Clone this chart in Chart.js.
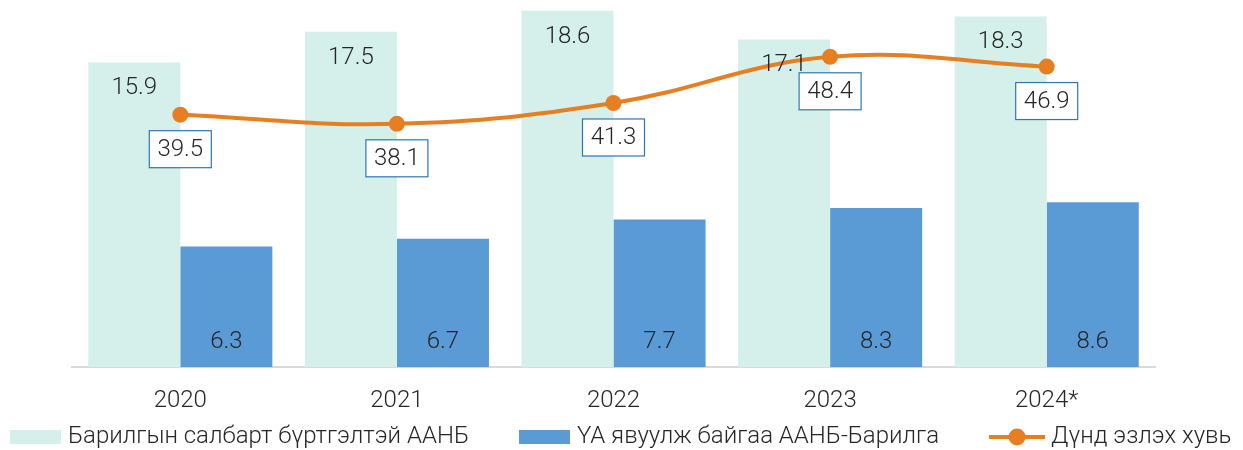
<!DOCTYPE html>
<html>
<head>
<meta charset="utf-8">
<script src="https://cdn.jsdelivr.net/npm/chart.js@4/dist/chart.umd.min.js"></script>
<style>
  html, body { margin: 0; padding: 0; background: #fff; }
  #wrap { width: 1243px; height: 450px; }
</style>
</head>
<body>
<div id="wrap"><canvas id="chart" width="1243" height="450"></canvas></div>
<script>
const years = ['2020', '2021', '2022', '2023', '2024*'];
const registered = [15.9, 17.5, 18.6, 17.1, 18.3];
const active = [6.3, 6.7, 7.7, 8.3, 8.6];
const share = [39.5, 38.1, 41.3, 48.4, 46.9];

const FONT = 'Roboto';
const TEXT = '#262626';

// value labels drawn on top of the datasets
const valueLabels = {
    id: 'valueLabels',
    afterDatasetsDraw(chart) {
        const ctx = chart.ctx;
        ctx.save();
        ctx.font = '300 24px ' + FONT;
        ctx.textAlign = 'center';
        ctx.textBaseline = 'middle';
        chart.data.datasets.forEach((ds, i) => {
            const meta = chart.getDatasetMeta(i);
            meta.data.forEach((el, j) => {
                const txt = ds.data[j].toFixed(1);
                if (i === 0) {
                    ctx.fillStyle = TEXT;
                    ctx.fillText(txt, el.x, el.y + 26);
                } else if (i === 1) {
                    ctx.fillStyle = TEXT;
                    ctx.fillText(txt, el.x, el.base - 25);
                } else {
                    const cy = el.y + 34.5;
                    ctx.fillStyle = '#fff';
                    ctx.fillRect(el.x - 31, cy - 18.5, 62, 37);
                    ctx.strokeStyle = '#2e75b6';
                    ctx.lineWidth = 1.2;
                    ctx.strokeRect(el.x - 31, cy - 18.5, 62, 37);
                    ctx.fillStyle = TEXT;
                    ctx.fillText(txt, el.x, cy + 1);
                }
            });
        });
        ctx.restore();
    }
};

// legend row at the bottom
const bottomLegend = {
    id: 'bottomLegend',
    afterDraw(chart) {
        const ctx = chart.ctx;
        ctx.save();
        ctx.font = '300 24px ' + FONT;
        ctx.textBaseline = 'middle';
        ctx.textAlign = 'left';
        const cy = 437;
        let x = 10;
        chart.data.datasets.forEach(ds => {
            if (ds.type === 'line') {
                ctx.strokeStyle = ds.borderColor;
                ctx.lineWidth = 4;
                ctx.beginPath();
                ctx.moveTo(x, cy);
                ctx.lineTo(x + 56, cy);
                ctx.stroke();
                ctx.fillStyle = ds.borderColor;
                ctx.beginPath();
                ctx.arc(x + 28, cy, 8.5, 0, Math.PI * 2);
                ctx.fill();
                x += 62;
            } else {
                ctx.fillStyle = ds.backgroundColor;
                ctx.fillRect(x, cy - 7, 51, 14);
                x += 58;
            }
            ctx.fillStyle = TEXT;
            ctx.fillText(ds.label, x, cy);
            x += ctx.measureText(ds.label).width + 50;
        });
        ctx.restore();
    }
};

new Chart(document.getElementById('chart').getContext('2d'), {
    data: {
        labels: years,
        datasets: [{
            type: 'bar',
            label: 'Барилгын салбарт бүртгэлтэй ААНБ',
            data: registered,
            backgroundColor: '#d5f0ea',
            yAxisID: 'y',
            order: 2
        }, {
            type: 'bar',
            label: 'ҮА явуулж байгаа ААНБ-Барилга',
            data: active,
            backgroundColor: '#5b9bd5',
            yAxisID: 'y',
            order: 2
        }, {
            type: 'line',
            label: 'Дүнд эзлэх хувь',
            data: share,
            borderColor: '#e67e22',
            backgroundColor: '#e67e22',
            borderWidth: 4,
            pointRadius: 8,
            pointBackgroundColor: '#e67e22',
            pointBorderWidth: 0,
            tension: 0.4,
            yAxisID: 'y2',
            order: 1
        }]
    },
    options: {
        responsive: false,
        animation: false,
        layout: { padding: { left: 72, right: 88, top: 0, bottom: 24 } },
        datasets: { bar: { categoryPercentage: 0.85, barPercentage: 1 } },
        plugins: { legend: { display: false }, tooltip: { enabled: false } },
        scales: {
            x: {
                grid: { display: false },
                border: { color: '#d9d9d9', width: 2 },
                ticks: { color: TEXT, font: { family: FONT, size: 24, weight: 300 }, padding: 11 }
            },
            y: { display: false, min: 0, max: 18.74 },
            y2: { display: false, min: 0.69, max: 55.9 }
        }
    },
    plugins: [valueLabels, bottomLegend]
});
</script>
</body>
</html>
